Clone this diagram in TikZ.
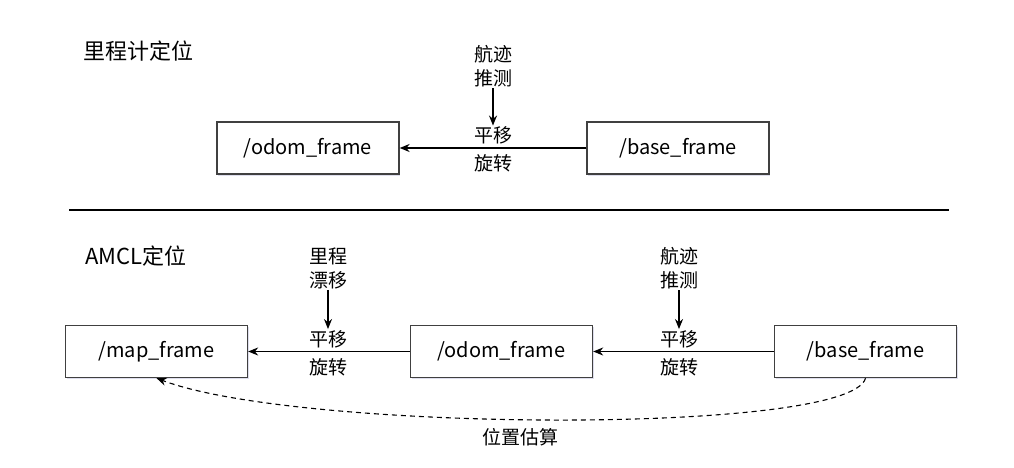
\documentclass[tikz,border=0pt]{standalone}
\usepackage{fontspec}
\setmainfont{Noto Sans CJK SC}
\usetikzlibrary{arrows.meta,shadows}
\tikzset{
  frame/.style={draw=black!75, line width=1.3pt, fill=white, minimum width=182pt, minimum height=52pt,
    font=\fontsize{20}{24}\selectfont,
    drop shadow={shadow xshift=1pt, shadow yshift=-1.5pt, opacity=0.2, fill=blue!30!gray}},
  note/.style={align=center, font=\fontsize{19}{24}\selectfont, inner sep=1pt},
  move/.style={align=center, font=\fontsize{19}{28}\selectfont, inner sep=1pt},
  heading/.style={font=\fontsize{22}{24}\selectfont, inner sep=0pt},
  link/.style={-{Stealth[length=10pt,width=8pt]}, line width=1.3pt},
}
\begin{document}
\begin{tikzpicture}[x=1pt, y=-1pt]
  \useasboundingbox (0,0) rectangle (1014,468);
  % odometry
  \node[heading] (odotitle) at (138,51) {里程计定位};
  \node[frame] (odom) at (308,148) {/odom\_frame};
  \node[frame] (base) at (678,148) {/base\_frame};
  \node[move] (basemove) at (493,149.5) {平移\\旋转};
  \node[note] (basedr) at (493,66) {航迹\\推测};
  \draw[link] (base) -- (odom);
  \draw[link] (basedr) -- (basemove);

  \coordinate (sepl) at (69,210);
  \coordinate (sepr) at (949,210);
  \draw[line width=1.8pt] (sepl) -- (sepr);

  % amcl
  \node[heading, anchor=west] (amcltitle) at (85,256) {AMCL定位};
  \node[frame] (mapf) at (156.5,351.5) {/map\_frame};
  \node[frame] (odom2) at (501.5,351.5) {/odom\_frame};
  \node[frame] (base2) at (865.5,351.5) {/base\_frame};
  \node[move] (odommove) at (328,353) {平移\\旋转};
  \node[note] (drift) at (328,268) {里程\\漂移};
  \node[move] (basemove2) at (679,353) {平移\\旋转};
  \node[note] (basedr2) at (679,268) {航迹\\推测};
  \draw[link] (odom2) -- (mapf);
  \draw[link] (base2) -- (odom2);
  \draw[link] (drift) -- (odommove);
  \draw[link] (basedr2) -- (basemove2);
  \draw[link, line width=1.1pt, dash pattern=on 5pt off 4pt] (base2.south) .. controls +(-15,57) and +(142,54) .. (mapf.south);
  \node[note] (estimate) at (520,437) {位置估算};
\end{tikzpicture}
\end{document}
